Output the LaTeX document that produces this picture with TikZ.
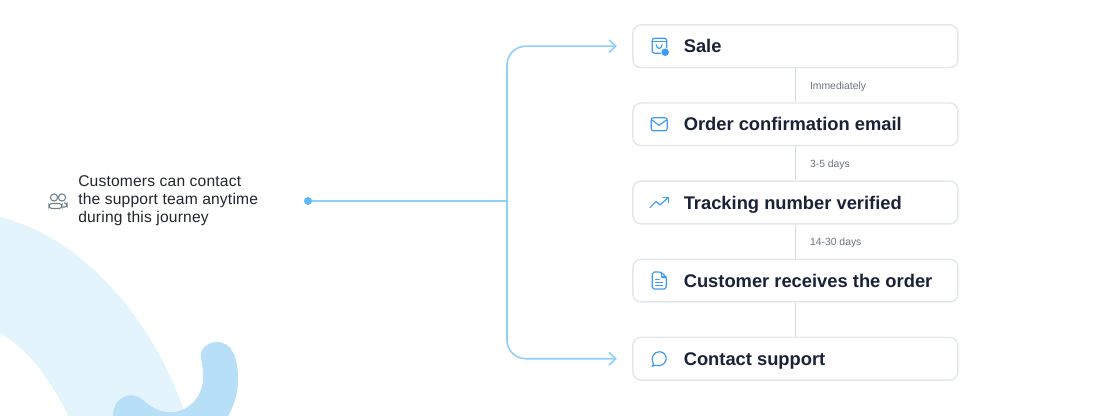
\documentclass[tikz,border=0pt]{standalone}
\usepackage{fontspec}
\setmainfont{Liberation Sans}
\newfontfamily\infofont[LetterSpace=1.2]{Liberation Sans}
\usetikzlibrary{positioning,arrows.meta}
\definecolor{boxline}{HTML}{E2E8EB}
\definecolor{stemgray}{HTML}{D5DCDF}
\definecolor{flowblue}{HTML}{8FD0FB}
\definecolor{dotblue}{HTML}{5CB9FA}
\definecolor{iconblue}{HTML}{3F9CF5}
\definecolor{paleblue}{HTML}{E4F4FD}
\definecolor{blobblue}{HTML}{B7DFF7}
\definecolor{titleink}{HTML}{1A2238}
\definecolor{infoink}{HTML}{22262C}
\definecolor{noteink}{HTML}{6B7280}
\definecolor{peoplegray}{HTML}{6F7F8C}
\tikzset{
    stagebox/.style={draw=boxline,line width=1.1pt,rounded corners=6pt,fill=white,minimum width=243.75pt,minimum height=32pt,inner sep=0pt},
    stagetitle/.style={font=\fontsize{13.75}{16}\selectfont\bfseries,text=titleink,inner sep=0pt,anchor=west,text height=10pt,text depth=0pt},
    stemline/.style={draw=stemgray,line width=.9pt},
    timenote/.style={font=\fontsize{7.8}{9}\selectfont,text=noteink,inner sep=0pt,anchor=west,text height=6pt,text depth=0pt},
    infotext/.style={font=\infofont\fontsize{11.7}{13.7}\selectfont,text=infoink,inner sep=0pt,anchor=west,align=left},
    flowline/.style={draw=flowblue,line width=1.2pt,rounded corners=14pt},
    flowarrow/.style={flowline,-{Straight Barb[length=5pt,width=9.5pt,line width=1.2pt]}},
    startdot/.style={circle,fill=dotblue,minimum size=6pt,inner sep=0pt},
    iconline/.style={draw=iconblue,line width=.9pt,line cap=round,line join=round},
    saleicon/.pic={
        \draw[iconline,rounded corners=1.8pt] (-7,-8) rectangle (7.5,7);
        \draw[iconline] (-7,-4.5) -- (7.5,-4.5);
        \draw[iconline] (-3,-1.5) .. controls (-2,3.5) and (2,3.5) .. (3,-1.5);
        \fill[iconblue,draw=white,line width=.5pt] (6,6) circle (3.2pt);
    },
    mailicon/.pic={
        \draw[iconline,rounded corners=1.6pt] (-8,-6.5) rectangle (8,6.5);
        \draw[iconline] (-7.5,-4.5) -- (0,1) -- (7.5,-4.5);
    },
    trendicon/.pic={
        \draw[iconline] (-9,5) -- (-3,-1) -- (1,2.5) -- (9,-5);
        \draw[iconline] (4,-5) -- (9,-5) -- (9,0);
    },
    docicon/.pic={
        \draw[iconline,rounded corners=1.4pt] (-7,-8.5) -- (2,-8.5) -- (7,-3.5) -- (7,8.5) -- (-7,8.5) -- cycle;
        \draw[iconline] (2,-8.5) -- (2,-3.5) -- (7,-3.5);
        \draw[iconline] (-3.5,-1) -- (0,-1) (-3.5,2) -- (3.5,2) (-3.5,5) -- (3.5,5);
    },
    chaticon/.pic={
        \draw[iconline] (-5.5,5) .. controls (-9.5,-1) and (-5,-7.5) .. (0.5,-7)
            .. controls (5,-6.8) and (7.5,-3) .. (7,0.5)
            .. controls (6.5,5) and (1,8.5) .. (-3.5,6.5) -- (-7,7.5) -- cycle;
    },
    peopleicon/.pic={
        \draw[draw=peoplegray,line width=.8pt] (-4,-3.5) circle (2.7pt) (4,-3.5) circle (2.7pt);
        \draw[draw=peoplegray,line width=.8pt,rounded corners=2.2pt] (-9,7.5) -- (-9,2.5) -- (4,2.5) -- (4,7.5) -- cycle;
        \draw[draw=peoplegray,line width=.8pt,rounded corners=1.8pt] (6,2) -- (9,2) -- (9,6) -- (5,6);
    }
}
\begin{document}
\begin{tikzpicture}[x=.75pt,y=-.75pt]
    \useasboundingbox (0,0) rectangle (1108,416);
    \begin{scope}
        \clip (0,0) rectangle (1108,416);
        \fill[paleblue] (0,217) .. controls (85,238) and (160,325) .. (190,430) -- (75,430) .. controls (55,385) and (30,350) .. (0,333) -- cycle;
        \fill[blobblue] (113,420) .. controls (111,400) and (128,388) .. (143,400)
            .. controls (158,414) and (175,416) .. (189,406)
            .. controls (204,394) and (205,378) .. (202,363)
            .. controls (197,350) and (207,342) .. (217,342)
            .. controls (232,342) and (238,358) .. (238,378)
            .. controls (238,395) and (234,406) .. (226,420) -- cycle;
    \end{scope}

    \node[stagebox] (sale) at (795.4,46.2) {};
    \node[stagebox,below=25.5pt of sale] (order) {};
    \node[stagebox,below=25.5pt of order] (tracking) {};
    \node[stagebox,below=25.5pt of tracking] (receives) {};
    \node[stagebox,below=25.5pt of receives] (contact) {};

    \node[stagetitle,right=38.5pt of sale.west] (saletitle) {Sale};
    \node[stagetitle,right=38.5pt of order.west] (ordertitle) {Order confirmation email};
    \node[stagetitle,right=38.5pt of tracking.west] (trackingtitle) {Tracking number verified};
    \node[stagetitle,right=38.5pt of receives.west] (receivestitle) {Customer receives the order};
    \node[stagetitle,right=38.5pt of contact.west] (contacttitle) {Contact support};

    \pic at ([xshift=20.25pt]sale.west) {saleicon};
    \pic at ([xshift=20.25pt]order.west) {mailicon};
    \pic at ([xshift=20.25pt]tracking.west) {trendicon};
    \pic at ([xshift=20.25pt]receives.west) {docicon};
    \pic at ([xshift=20.25pt]contact.west) {chaticon};

    \draw[stemline] (sale) -- (order) node[timenote,midway,xshift=10.5pt] (immediately) {Immediately};
    \draw[stemline] (order) -- (tracking) node[timenote,midway,xshift=10.5pt] (fewdays) {3-5 days};
    \draw[stemline] (tracking) -- (receives) node[timenote,midway,xshift=10.5pt] (manydays) {14-30 days};
    \draw[stemline] (receives) -- (contact);

    \node[infotext] (info) at (78,200.5) {Customers can contact\\the support team anytime\\during this journey};
    \pic at (58,201) {peopleicon};

    \node[startdot] (start) at (308,201) {};
    \coordinate (joint) at (507,201);
    \draw[flowline] (start) -- (joint);
    \draw[flowarrow] (joint) |- ([xshift=-11.5pt]sale.west);
    \draw[flowarrow] (joint) |- ([xshift=-11.5pt]contact.west);
\end{tikzpicture}
\end{document}
